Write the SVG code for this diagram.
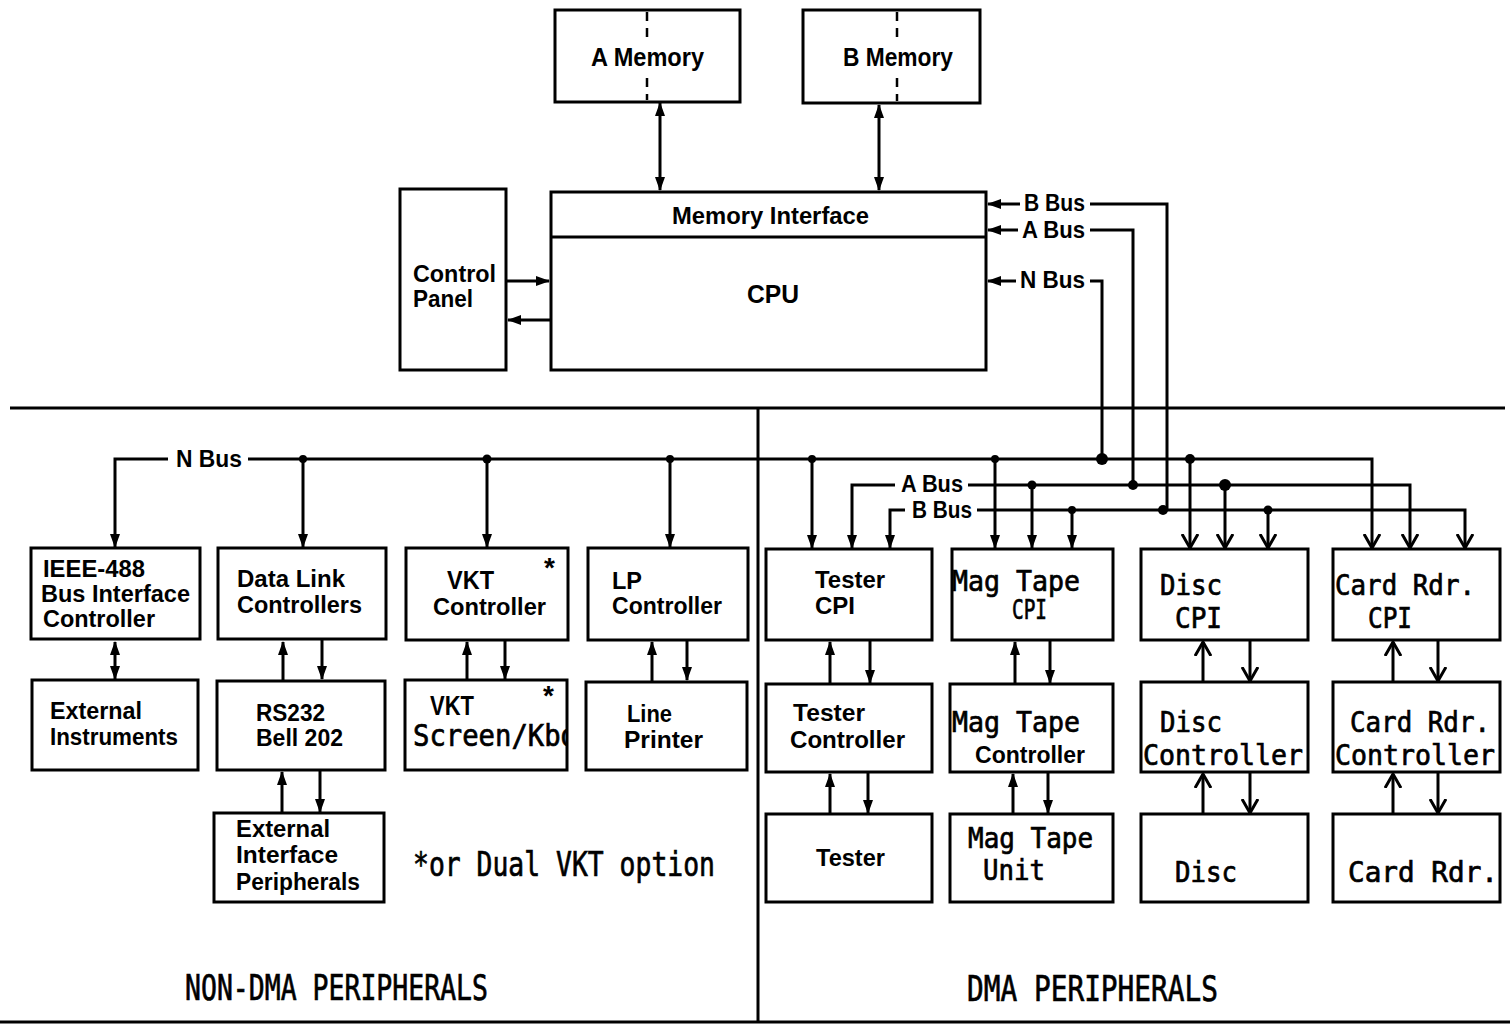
<svg xmlns="http://www.w3.org/2000/svg" width="1510" height="1029" viewBox="0 0 1510 1029">
<style>
.box{fill:#fff;stroke:#000;stroke-width:3}
.ln{fill:none;stroke:#000;stroke-width:3}
.dl{fill:none;stroke:#000;stroke-width:2.5;stroke-dasharray:9 7}
.a{marker-end:url(#fa)}
.ab{marker-end:url(#fa);marker-start:url(#fs)}
.v{marker-end:url(#va)}
.s{font-family:"Liberation Sans",Arial,sans-serif;font-size:23px;font-weight:bold;fill:#000}
.m{font-family:"DejaVu Sans Mono","Liberation Mono",monospace;font-size:28px;fill:#000;stroke:#000;stroke-width:0.7}
.d{fill:#000}
</style>
<defs>
<marker id="fa" markerUnits="userSpaceOnUse" markerWidth="14" markerHeight="10" refX="13" refY="5" orient="auto"><path d="M0,0 L14,5 L0,10 z" fill="#000"/></marker>
<marker id="fs" markerUnits="userSpaceOnUse" markerWidth="14" markerHeight="10" refX="13" refY="5" orient="auto-start-reverse"><path d="M0,0 L14,5 L0,10 z" fill="#000"/></marker>
<marker id="va" markerUnits="userSpaceOnUse" markerWidth="16" markerHeight="18" refX="14" refY="9" orient="auto"><path d="M0,1 L14,9 L0,17" fill="none" stroke="#000" stroke-width="3"/></marker>
<clipPath id="vkc"><rect x="405" y="680" width="162" height="90"/></clipPath>
</defs>

<g id="frame">
<path class="ln" d="M10,408 H1505"/>
<path class="ln" d="M758,408 V1022"/>
<path class="ln" d="M0,1022 H1510"/>
</g>

<g id="connectors">
<path class="ln ab" d="M660,103 V190"/>
<path class="ln ab" d="M879,105 V190"/>
<path class="ln a" d="M507,281 H549"/>
<path class="ln a" d="M550,320 H508"/>
<path class="ln a" d="M1020,204 H988"/>
<path class="ln" d="M1090,204 H1167 V510"/>
<path class="ln a" d="M1018,230 H988"/>
<path class="ln" d="M1090,230 H1133 V485"/>
<path class="ln a" d="M1016,281 H988"/>
<path class="ln" d="M1090,281 H1102 V459"/>
<path class="ln a" d="M168,459 H115 V547"/>
<path class="ln v" d="M248,459 H1372 V548"/>
<path class="ln a" d="M303,459 V547"/>
<path class="ln a" d="M487,459 V547"/>
<path class="ln a" d="M670,459 V547"/>
<path class="ln a" d="M812,459 V548"/>
<path class="ln a" d="M995,459 V548"/>
<path class="ln v" d="M1190,459 V548"/>
<path class="ln a" d="M895,485 H852 V548"/>
<path class="ln v" d="M968,485 H1410 V548"/>
<path class="ln a" d="M1032,485 V548"/>
<path class="ln v" d="M1225,485 V548"/>
<path class="ln a" d="M905,510 H890 V548"/>
<path class="ln v" d="M977,510 H1465 V548"/>
<path class="ln a" d="M1072,510 V548"/>
<path class="ln v" d="M1268,510 V548"/>
<circle class="d" cx="303" cy="459" r="4"/>
<circle class="d" cx="487" cy="459" r="4.5"/>
<circle class="d" cx="670" cy="459" r="4"/>
<circle class="d" cx="812" cy="459" r="4"/>
<circle class="d" cx="995" cy="459" r="4"/>
<circle class="d" cx="1102" cy="459" r="6"/>
<circle class="d" cx="1190" cy="459" r="5"/>
<circle class="d" cx="1032" cy="485" r="4.5"/>
<circle class="d" cx="1133" cy="485" r="5"/>
<circle class="d" cx="1225" cy="485" r="6"/>
<circle class="d" cx="1072" cy="510" r="4"/>
<circle class="d" cx="1163" cy="510" r="5"/>
<circle class="d" cx="1268" cy="510" r="4.5"/>
<path class="ln ab" d="M115,642 V679"/>
<path class="ln a" d="M283,680 V642"/>
<path class="ln a" d="M322,640 V679"/>
<path class="ln a" d="M467,680 V642"/>
<path class="ln a" d="M505,640 V679"/>
<path class="ln a" d="M652,681 V642"/>
<path class="ln a" d="M687,640 V680"/>
<path class="ln a" d="M282,813 V772"/>
<path class="ln a" d="M320,770 V812"/>
<path class="ln a" d="M830,684 V642"/>
<path class="ln a" d="M870,640 V683"/>
<path class="ln a" d="M830,814 V774"/>
<path class="ln a" d="M868,772 V813"/>
<path class="ln a" d="M1015,684 V642"/>
<path class="ln a" d="M1050,640 V683"/>
<path class="ln a" d="M1013,814 V774"/>
<path class="ln a" d="M1048,772 V813"/>
<path class="ln v" d="M1203,682 V642"/>
<path class="ln v" d="M1250,640 V681"/>
<path class="ln v" d="M1203,814 V774"/>
<path class="ln v" d="M1250,772 V813"/>
<path class="ln v" d="M1393,682 V642"/>
<path class="ln v" d="M1438,640 V681"/>
<path class="ln v" d="M1393,814 V774"/>
<path class="ln v" d="M1438,772 V813"/>
<text class="s" x="1024" y="211" textLength="61" lengthAdjust="spacingAndGlyphs">B Bus</text>
<text class="s" x="1022" y="238" textLength="63" lengthAdjust="spacingAndGlyphs">A Bus</text>
<text class="s" x="1020" y="288" textLength="65" lengthAdjust="spacingAndGlyphs">N Bus</text>
<text class="s" x="176" y="467" textLength="66" lengthAdjust="spacingAndGlyphs">N Bus</text>
<text class="s" x="901" y="492" textLength="62" lengthAdjust="spacingAndGlyphs">A Bus</text>
<text class="s" x="912" y="518" textLength="60" lengthAdjust="spacingAndGlyphs">B Bus</text>
</g>

<g id="a-memory">
<rect class="box" x="555" y="10" width="185" height="92"/>
<path class="dl" d="M647,12 V38 M647,78 V100"/>
<text class="s" x="591" y="66" textLength="113" lengthAdjust="spacingAndGlyphs" style="font-size:25px">A Memory</text>
</g>
<g id="b-memory">
<rect class="box" x="803" y="10" width="177" height="93"/>
<path class="dl" d="M897,12 V38 M897,78 V101"/>
<text class="s" x="843" y="66" textLength="110" lengthAdjust="spacingAndGlyphs" style="font-size:25px">B Memory</text>
</g>
<g id="cpu">
<rect class="box" x="551" y="192" width="435" height="178"/>
<path class="ln" d="M551,237 H986"/>
<text class="s" x="672" y="224" textLength="197" lengthAdjust="spacingAndGlyphs">Memory Interface</text>
<text class="s" x="747" y="303" textLength="52" lengthAdjust="spacingAndGlyphs" style="font-size:25px">CPU</text>
</g>
<g id="control-panel">
<rect class="box" x="400" y="189" width="106" height="181"/>
<text class="s" x="413" y="282" textLength="83" lengthAdjust="spacingAndGlyphs">Control</text>
<text class="s" x="413" y="307" textLength="60" lengthAdjust="spacingAndGlyphs">Panel</text>
</g>

<g id="ieee488">
<rect class="box" x="31" y="548" width="169" height="91"/>
<text class="s" x="43" y="577" textLength="102" lengthAdjust="spacingAndGlyphs">IEEE-488</text>
<text class="s" x="41" y="602" textLength="149" lengthAdjust="spacingAndGlyphs">Bus Interface</text>
<text class="s" x="43" y="627" textLength="112" lengthAdjust="spacingAndGlyphs">Controller</text>
</g>
<g id="data-link">
<rect class="box" x="218" y="548" width="168" height="91"/>
<text class="s" x="237" y="587" textLength="108" lengthAdjust="spacingAndGlyphs">Data Link</text>
<text class="s" x="237" y="613" textLength="125" lengthAdjust="spacingAndGlyphs">Controllers</text>
</g>
<g id="vkt-controller">
<rect class="box" x="406" y="548" width="162" height="92"/>
<text class="s" x="447" y="589" textLength="47" lengthAdjust="spacingAndGlyphs" style="font-size:26px">VKT</text>
<text class="s" x="433" y="615" textLength="113" lengthAdjust="spacingAndGlyphs">Controller</text>
<text class="s" x="544" y="577" style="font-size:28px">*</text>
</g>
<g id="lp-controller">
<rect class="box" x="588" y="548" width="160" height="92"/>
<text class="s" x="612" y="589" textLength="30" lengthAdjust="spacingAndGlyphs">LP</text>
<text class="s" x="612" y="614" textLength="110" lengthAdjust="spacingAndGlyphs">Controller</text>
</g>
<g id="external-instruments">
<rect class="box" x="32" y="680" width="166" height="90"/>
<text class="s" x="50" y="719" textLength="92" lengthAdjust="spacingAndGlyphs">External</text>
<text class="s" x="50" y="745" textLength="128" lengthAdjust="spacingAndGlyphs">Instruments</text>
</g>
<g id="rs232">
<rect class="box" x="217" y="681" width="168" height="89"/>
<text class="s" x="256" y="721" textLength="69" lengthAdjust="spacingAndGlyphs">RS232</text>
<text class="s" x="256" y="746" textLength="87" lengthAdjust="spacingAndGlyphs">Bell 202</text>
</g>
<g id="vkt-screen">
<rect class="box" x="405" y="680" width="162" height="90"/>
<text class="s" x="430" y="715" textLength="44" lengthAdjust="spacingAndGlyphs" style="font-size:27px">VKT</text>
<text class="m" x="413" y="746" textLength="164" lengthAdjust="spacingAndGlyphs" clip-path="url(#vkc)" style="font-size:30px">Screen/Kbd</text>
<text class="s" x="543" y="705" style="font-size:28px">*</text>
</g>
<g id="line-printer">
<rect class="box" x="586" y="682" width="161" height="88"/>
<text class="s" x="627" y="722" textLength="45" lengthAdjust="spacingAndGlyphs">Line</text>
<text class="s" x="624" y="748" textLength="79" lengthAdjust="spacingAndGlyphs">Printer</text>
</g>
<g id="external-interface">
<rect class="box" x="214" y="813" width="170" height="89"/>
<text class="s" x="236" y="837" textLength="94" lengthAdjust="spacingAndGlyphs">External</text>
<text class="s" x="236" y="863" textLength="102" lengthAdjust="spacingAndGlyphs">Interface</text>
<text class="s" x="236" y="890" textLength="124" lengthAdjust="spacingAndGlyphs">Peripherals</text>
</g>
<text class="m" x="413" y="876" textLength="302" lengthAdjust="spacingAndGlyphs" style="font-size:33px">*or Dual VKT option</text>
<text class="m" x="185" y="1000" textLength="303" lengthAdjust="spacingAndGlyphs" style="font-size:35px">NON-DMA PERIPHERALS</text>
<text class="m" x="967" y="1001" textLength="251" lengthAdjust="spacingAndGlyphs" style="font-size:35px">DMA  PERIPHERALS</text>

<g id="tester-cpi">
<rect class="box" x="766" y="549" width="166" height="91"/>
<text class="s" x="815" y="588" textLength="70" lengthAdjust="spacingAndGlyphs">Tester</text>
<text class="s" x="815" y="614" textLength="40" lengthAdjust="spacingAndGlyphs">CPI</text>
</g>
<g id="magtape-cpi">
<rect class="box" x="952" y="549" width="161" height="91"/>
<text class="m" x="952" y="591" textLength="128" lengthAdjust="spacingAndGlyphs">Mag Tape</text>
<text class="m" x="1012" y="619" textLength="35" lengthAdjust="spacingAndGlyphs" style="font-size:26px">CPI</text>
</g>
<g id="disc-cpi">
<rect class="box" x="1141" y="549" width="167" height="91"/>
<text class="m" x="1160" y="595" textLength="62" lengthAdjust="spacingAndGlyphs">Disc</text>
<text class="m" x="1175" y="628" textLength="47" lengthAdjust="spacingAndGlyphs">CPI</text>
</g>
<g id="cardrdr-cpi">
<rect class="box" x="1333" y="549" width="167" height="91"/>
<text class="m" x="1335" y="595" textLength="140" lengthAdjust="spacingAndGlyphs">Card Rdr.</text>
<text class="m" x="1368" y="628" textLength="44" lengthAdjust="spacingAndGlyphs">CPI</text>
</g>
<g id="tester-controller">
<rect class="box" x="766" y="684" width="166" height="88"/>
<text class="s" x="793" y="721" textLength="72" lengthAdjust="spacingAndGlyphs">Tester</text>
<text class="s" x="790" y="748" textLength="115" lengthAdjust="spacingAndGlyphs">Controller</text>
</g>
<g id="magtape-controller">
<rect class="box" x="950" y="684" width="163" height="88"/>
<text class="m" x="952" y="732" textLength="128" lengthAdjust="spacingAndGlyphs">Mag Tape</text>
<text class="s" x="975" y="763" textLength="110" lengthAdjust="spacingAndGlyphs">Controller</text>
</g>
<g id="disc-controller">
<rect class="box" x="1141" y="682" width="167" height="90"/>
<text class="m" x="1160" y="732" textLength="62" lengthAdjust="spacingAndGlyphs">Disc</text>
<text class="m" x="1143" y="765" textLength="160" lengthAdjust="spacingAndGlyphs">Controller</text>
</g>
<g id="cardrdr-controller">
<rect class="box" x="1333" y="682" width="167" height="90"/>
<text class="m" x="1350" y="732" textLength="140" lengthAdjust="spacingAndGlyphs">Card Rdr.</text>
<text class="m" x="1335" y="765" textLength="160" lengthAdjust="spacingAndGlyphs">Controller</text>
</g>
<g id="tester">
<rect class="box" x="766" y="814" width="166" height="88"/>
<text class="s" x="816" y="866" textLength="69" lengthAdjust="spacingAndGlyphs">Tester</text>
</g>
<g id="magtape-unit">
<rect class="box" x="950" y="814" width="163" height="88"/>
<text class="m" x="968" y="848" textLength="125" lengthAdjust="spacingAndGlyphs">Mag Tape</text>
<text class="m" x="983" y="880" textLength="62" lengthAdjust="spacingAndGlyphs">Unit</text>
</g>
<g id="disc">
<rect class="box" x="1141" y="814" width="167" height="88"/>
<text class="m" x="1175" y="882" textLength="62" lengthAdjust="spacingAndGlyphs">Disc</text>
</g>
<g id="cardrdr">
<rect class="box" x="1333" y="814" width="167" height="88"/>
<text class="m" x="1348" y="882" textLength="150" lengthAdjust="spacingAndGlyphs">Card Rdr.</text>
</g>
</svg>
